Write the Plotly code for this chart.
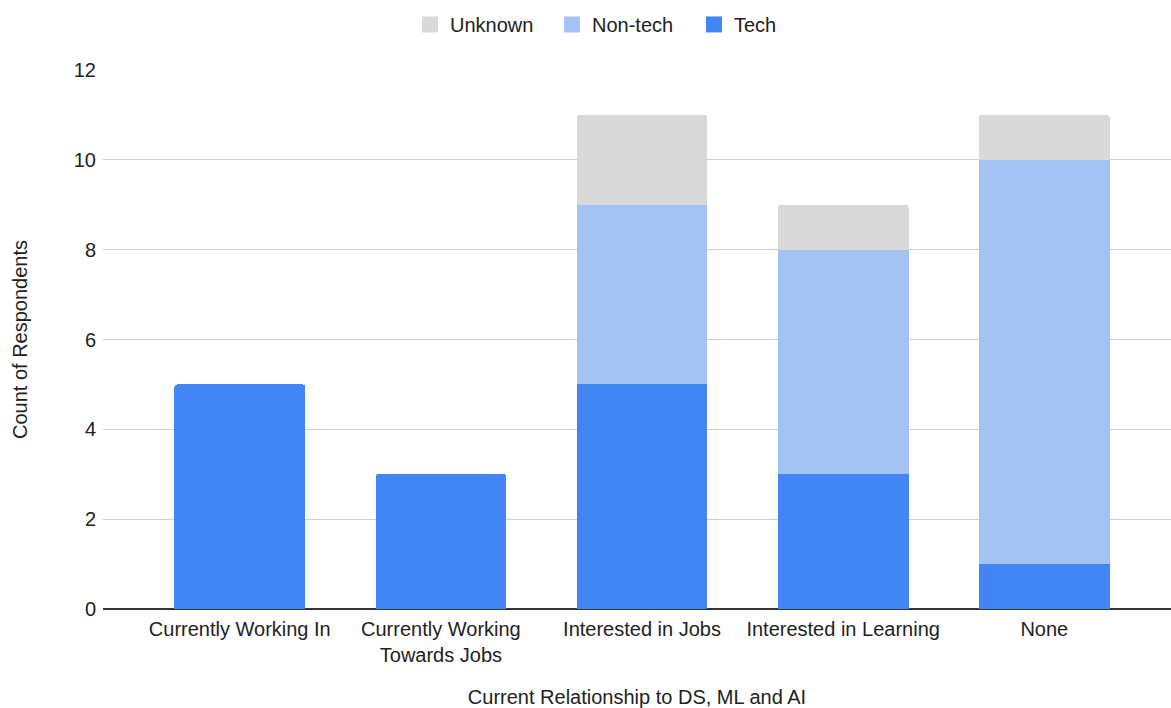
import plotly.graph_objects as go

categories = ["Currently Working In", "Currently Working<br>Towards Jobs",
              "Interested in Jobs", "Interested in Learning", "None"]
tech = [5, 3, 5, 3, 1]
non_tech = [0, 0, 4, 5, 9]
unknown = [0, 0, 2, 1, 1]
y_ticks = [0, 2, 4, 6, 8, 10, 12]

series = [("Tech", tech, "#4285F4"),
          ("Non-tech", non_tech, "#A4C2F4"),
          ("Unknown", unknown, "#D9D9D9")]

font = "Liberation Sans, Arial, sans-serif"

fig = go.Figure()
for name, values, color in series:
    fig.add_trace(go.Bar(x=categories, y=values, name=name, marker_color=color,
                         marker_line_width=0, showlegend=False))

# Legend entries drawn as larger square swatches
for name, values, color in reversed(series):
    fig.add_trace(go.Scatter(x=[None], y=[None], mode="markers", name=name,
                             marker=dict(symbol="square", size=19, color=color),
                             showlegend=True))

fig.update_layout(
    barmode="stack",
    bargap=0.35,
    barcornerradius=3,
    width=1171, height=708,
    margin=dict(l=103, r=0, t=70, b=99),
    paper_bgcolor="white", plot_bgcolor="white",
    font=dict(family=font, size=20, color="#222222"),
    legend=dict(orientation="h", x=0.532, xanchor="center", xref="container",
                y=0.993, yanchor="top", yref="container",
                font=dict(size=20, color="#222222"),
                traceorder="normal", itemwidth=30, tracegroupgap=0,
                entrywidth=97, entrywidthmode="pixels"),
    xaxis=dict(range=[-0.68, 4.63], showgrid=False, ticks="", automargin=False,
               ticklabelstandoff=6,
               title=dict(text="Current Relationship to DS, ML and AI",
                          font=dict(size=20), standoff=26),
               tickfont=dict(size=20)),
    yaxis=dict(range=[0, 12], tickvals=y_ticks, showgrid=True, gridcolor="#D0D0D0",
               gridwidth=1, zeroline=True, zerolinecolor="#333333", zerolinewidth=1.5,
               ticks="", ticklabelstandoff=6, automargin=False,
               title=dict(text="Count of Respondents", font=dict(size=20), standoff=40),
               tickfont=dict(size=20)),
)

fig.write_html("out.html")
